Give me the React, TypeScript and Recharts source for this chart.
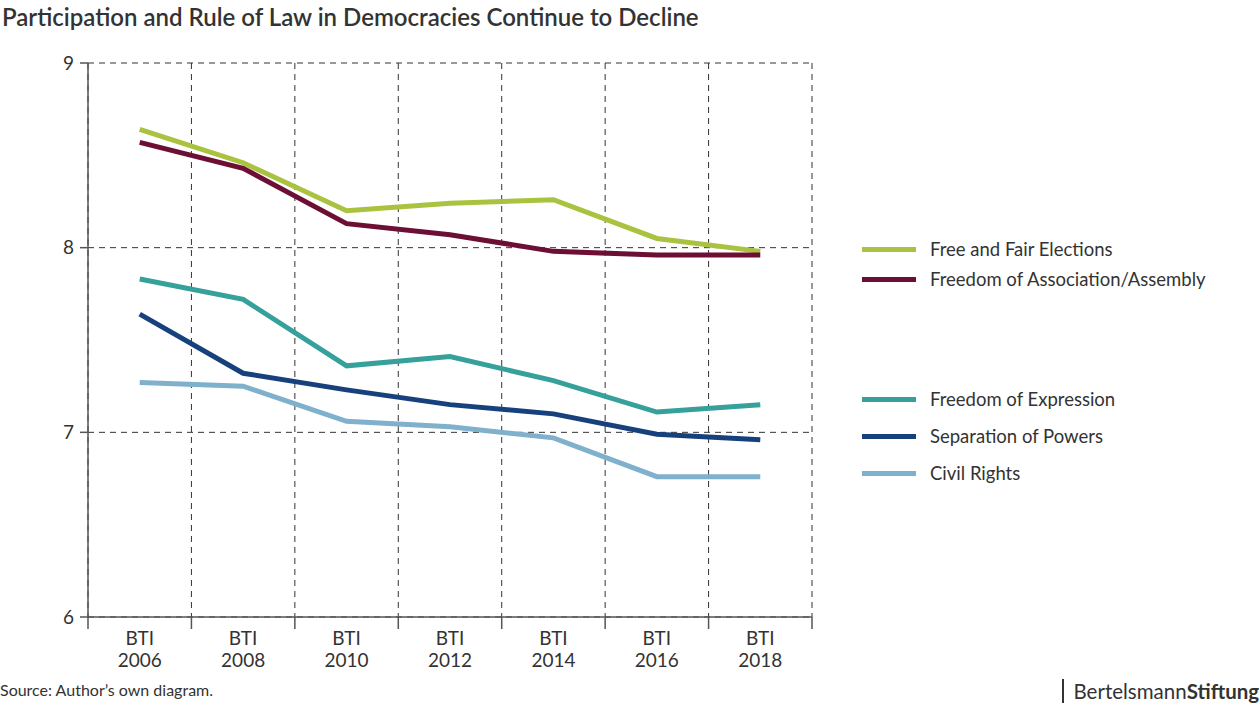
import React from "react";
import { LineChart, Line, XAxis, YAxis, CartesianGrid } from "recharts";

const editions = ["2006", "2008", "2010", "2012", "2014", "2016", "2018"];
const freeElections = [8.64, 8.46, 8.2, 8.24, 8.26, 8.05, 7.98];
const association = [8.57, 8.43, 8.13, 8.07, 7.98, 7.96, 7.96];
const expression = [7.83, 7.72, 7.36, 7.41, 7.28, 7.11, 7.15];
const separation = [7.64, 7.32, 7.23, 7.15, 7.1, 6.99, 6.96];
const civilRights = [7.27, 7.25, 7.06, 7.03, 6.97, 6.76, 6.76];
const yTicks = [6, 7, 8, 9];

const series = [
  { key: "free", name: "Free and Fair Elections", color: "#a9c23f", values: freeElections, legendTop: 249 },
  { key: "assoc", name: "Freedom of Association/Assembly", color: "#6d0f35", values: association, legendTop: 279 },
  { key: "expr", name: "Freedom of Expression", color: "#36a09a", values: expression, legendTop: 399 },
  { key: "sep", name: "Separation of Powers", color: "#17417c", values: separation, legendTop: 436 },
  { key: "civil", name: "Civil Rights", color: "#7fb0cc", values: civilRights, legendTop: 473 },
];

// x positions sit in the middle of each band, band edges carry the grid
const data = editions.map((year, i) => {
  const row: Record<string, number | string> = { x: i + 0.5, year };
  series.forEach((s) => (row[s.key] = s.values[i]));
  return row;
});
const edgeTicks = editions.map((_, i) => i).concat(editions.length);
const midTicks = editions.map((_, i) => i + 0.5);

const FONT = "Lato, 'Open Sans', sans-serif";
const TEXT = "#333333";

const NoTick = () => <g />;

const YearTick = (props: any) => {
  const { x, y, payload } = props;
  const label = editions[Math.floor(payload.value)];
  return (
    <text x={x} y={y} textAnchor="middle" fill={TEXT} fontSize={19} fontFamily={FONT}>
      <tspan x={x} dy={19}>BTI</tspan>
      <tspan x={x} dy={22}>{label}</tspan>
    </text>
  );
};

export default function App() {
  return (
    <div style={{ position: "absolute", left: 0, top: 0, width: 1259, height: 708, background: "#fff", fontFamily: FONT, color: TEXT }}>
      <div style={{ position: "absolute", left: 2, top: 2, fontSize: 24, fontWeight: 600, whiteSpace: "nowrap" }}>
        Participation and Rule of Law in Democracies Continue to Decline
      </div>
      <LineChart width={1259} height={708} data={data} margin={{ top: 63, right: 447, bottom: 50, left: 0 }}>
        <CartesianGrid xAxisId="edges" stroke="#333" strokeDasharray="6 5" strokeWidth={1} />
        <XAxis
          xAxisId="edges"
          dataKey="x"
          type="number"
          domain={[0, editions.length]}
          ticks={edgeTicks}
          interval={0}
          height={1}
          tick={<NoTick />}
          tickSize={12}
          stroke="#555"
          strokeWidth={1.5}
          tickLine={{ stroke: "#555", strokeWidth: 1.5 }}
        />
        <XAxis
          xAxisId="labels"
          dataKey="x"
          type="number"
          domain={[0, editions.length]}
          ticks={midTicks}
          height={40}
          axisLine={false}
          tickLine={false}
          tick={<YearTick />}
          interval={0}
        />
        <YAxis
          domain={[6, 9]}
          ticks={yTicks}
          width={88}
          stroke="#555"
          strokeWidth={1.5}
          tickSize={8}
          tickMargin={6}
          tick={{ fill: TEXT, fontSize: 19, fontFamily: FONT }}
        />
        {series.map((s) => (
          <Line
            key={s.key}
            xAxisId="edges"
            dataKey={s.key}
            name={s.name}
            type="linear"
            stroke={s.color}
            strokeWidth={5}
            dot={false}
            isAnimationActive={false}
          />
        ))}
      </LineChart>
      {series.map((s) => (
        <div key={s.key} style={{ position: "absolute", left: 862, top: s.legendTop - 12, height: 24, display: "flex", alignItems: "center", whiteSpace: "nowrap" }}>
          <div style={{ width: 54, height: 5, background: s.color, marginRight: 14 }} />
          <span style={{ fontSize: 18.5 }}>{s.name}</span>
        </div>
      ))}
      <div style={{ position: "absolute", left: 0, top: 680, fontSize: 16 }}>Source: Author’s own diagram.</div>
      <div style={{ position: "absolute", left: 1062, top: 679, display: "flex", alignItems: "center", whiteSpace: "nowrap" }}>
        <div style={{ width: 1.5, height: 24, background: TEXT, marginRight: 10 }} />
        <span style={{ fontSize: 20.5 }}>
          Bertelsmann<b>Stiftung</b>
        </span>
      </div>
    </div>
  );
}
